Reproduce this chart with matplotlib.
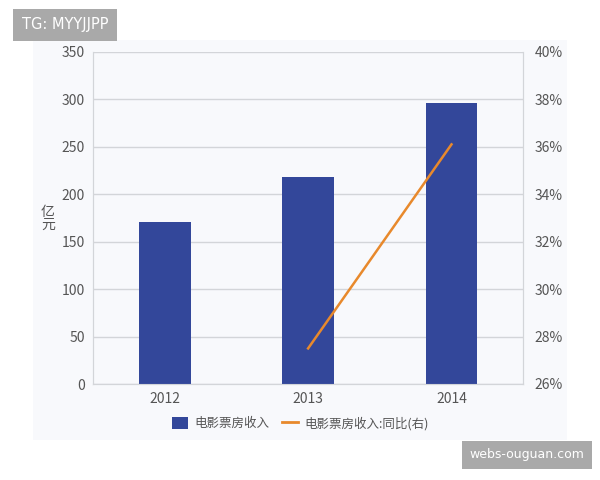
import numpy as np
import matplotlib.pyplot as plt
from matplotlib.patches import Rectangle
from matplotlib.lines import Line2D

plt.rcParams['font.family'] = ['Noto Sans CJK SC', 'DejaVu Sans']

years = ['2012', '2013', '2014']
box_office = [170.7, 217.7, 296.4]  # 亿元
yoy_years = ['2013', '2014']
yoy_pct = [27.5, 36.1]  # %

bar_color = '#33479a'
line_color = '#e8892c'
grid_color = '#d3d5d9'
text_color = '#555555'
panel_color = '#f8f9fc'

fig = plt.figure(figsize=(6, 4.8), dpi=100)
fig.patch.set_facecolor('white')

# light panel behind the chart
panel = Rectangle((0.055, 0.083), 0.89, 0.834, transform=fig.transFigure,
                  facecolor=panel_color, edgecolor='none', zorder=-10)
fig.add_artist(panel)

ax = fig.add_axes([0.155, 0.2, 0.717, 0.692])
ax.set_facecolor(panel_color)
x = np.arange(len(years))
ax.bar(x, box_office, width=0.36, color=bar_color, zorder=3)
ax.set_xlim(-0.5, 2.5)
ax.set_ylim(0, 350)
ax.set_yticks(np.arange(0, 351, 50))
ax.set_xticks(x)
ax.set_xticklabels(years)
ax.grid(axis='y', color=grid_color, linewidth=1, zorder=0)
ax.tick_params(length=0, colors=text_color, labelsize=10, pad=6)
for s in ax.spines.values():
    s.set_color(grid_color)
ax.spines['top'].set_visible(False)

ax2 = ax.twinx()
xi = [years.index(y) for y in yoy_years]
ax2.plot(xi, yoy_pct, color=line_color, linewidth=1.8, zorder=4)
ax2.set_ylim(26, 40)
ax2.set_yticks(np.arange(26, 41, 2))
ax2.set_yticklabels([f'{v}%' for v in range(26, 41, 2)])
ax2.tick_params(length=0, colors=text_color, labelsize=10, pad=8)
for s in ax2.spines.values():
    s.set_color(grid_color)
ax2.spines['top'].set_visible(False)

fig.text(0.08, 0.545, '亿\n元', color=text_color, fontsize=10, ha='center', va='center',
         linespacing=0.95)

handles = [Rectangle((0, 0), 1, 1, facecolor=bar_color, edgecolor='none'),
           Line2D([0], [0], color=line_color, linewidth=2)]
fig.legend(handles, ['电影票房收入', '电影票房收入:同比(右)'], loc='center',
           bbox_to_anchor=(0.5, 0.118), ncol=2, frameon=False, fontsize=9,
           handlelength=1.3, handleheight=1.0, columnspacing=1.0, handletextpad=0.5,
           labelcolor=text_color)

# watermarks
fig.text(0.108, 0.948, 'TG: MYYJJPP', color='white', fontsize=10.5, ha='center', va='center',
         family=['DejaVu Sans'],
         bbox=dict(boxstyle='square,pad=0.6', facecolor='#a9a9a9', edgecolor='none'))
fig.text(0.878, 0.053, 'webs-ouguan.com', color='white', fontsize=9, ha='center', va='center',
         family=['DejaVu Sans'],
         bbox=dict(boxstyle='square,pad=0.6', facecolor='#a9a9a9', edgecolor='none'))

fig.savefig('out.png', dpi=100)
